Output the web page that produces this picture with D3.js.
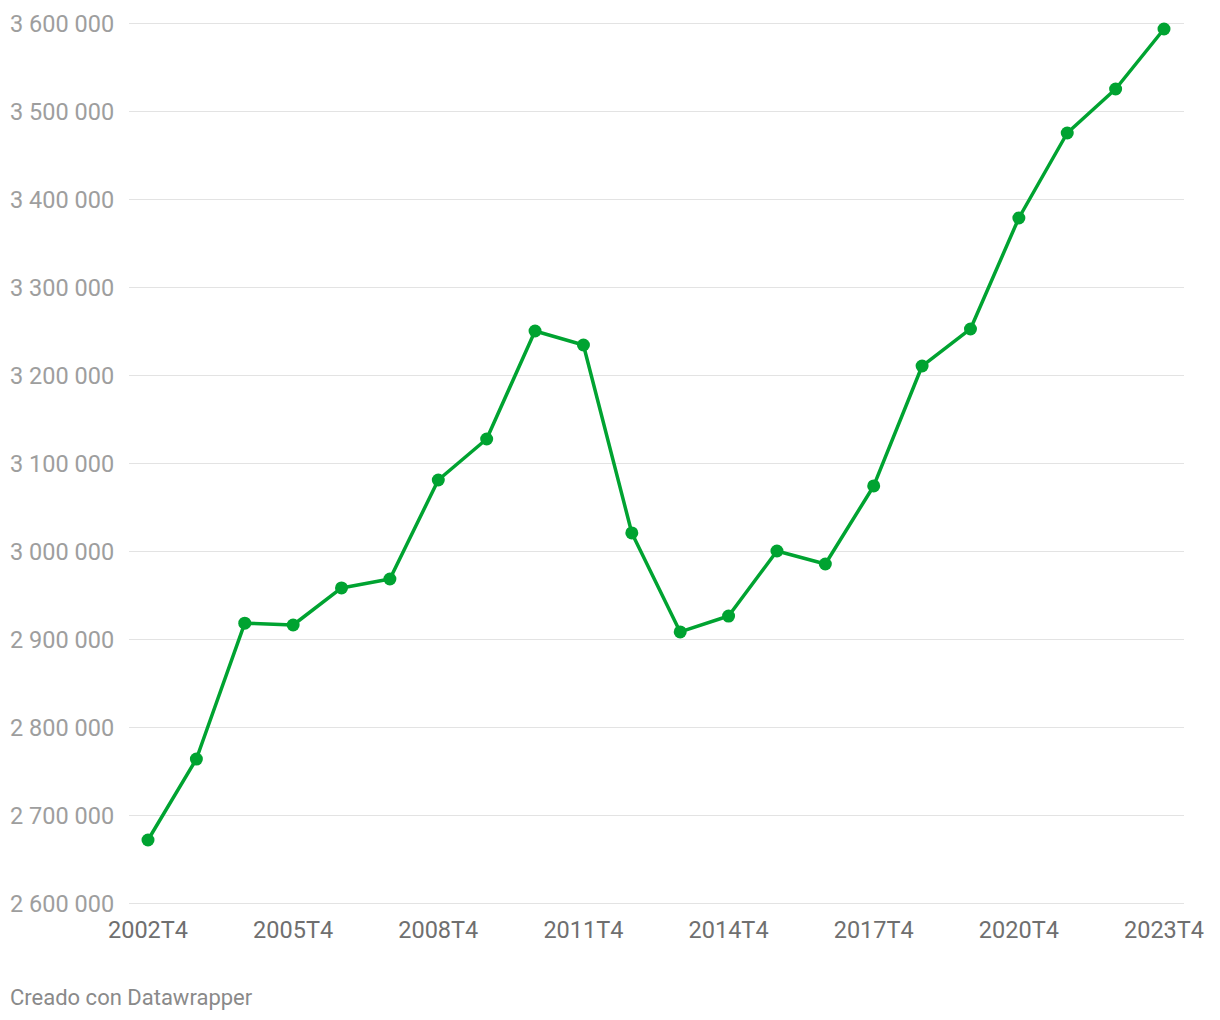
<!DOCTYPE html>
<html>
<head>
<meta charset="utf-8">
<style>
    body { margin: 0; background: #fff; font-family: Roboto, 'Noto Sans', sans-serif; }
    svg { display: block; }
    .grid line { stroke: #e3e3e3; stroke-width: 1; }
    .y-label { font-size: 23.5px; fill: #9e9e9e; }
    .x-label { font-size: 23.5px; fill: #6f6f6f; }
    .credit { font-size: 22px; fill: #8a8a8a; }
</style>
</head>
<body>
<svg width="1220" height="1020"></svg>
<script src="https://d3js.org/d3.v7.min.js"></script>
<script>
    // years of the series (all fourth quarter)
    let years = [2002, 2003, 2004, 2005, 2006, 2007, 2008, 2009, 2010, 2011, 2012,
        2013, 2014, 2015, 2016, 2017, 2018, 2019, 2020, 2021, 2022, 2023]

    let values = [2671600, 2763600, 2918000, 2915900, 2958000, 2968200, 3080700,
        3127300, 3250000, 3234100, 3020500, 2908000, 2926100, 3000000, 2985200,
        3073900, 3210200, 3252300, 3378400, 3475000, 3525000, 3593200]

    let yTicks = [2600000, 2700000, 2800000, 2900000, 3000000, 3100000, 3200000,
        3300000, 3400000, 3500000, 3600000]

    let xTickYears = [2002, 2005, 2008, 2011, 2014, 2017, 2020, 2023]

    let data = years.map((y, i) => ({ year: y, value: values[i] }))

    let svg = d3.select("svg")

    let x = d3.scaleLinear()
        .domain([2002, 2023])
        .range([148, 1164])

    let y = d3.scaleLinear()
        .domain([2600000, 3600000])
        .range([903, 23])

    let fmt = v => d3.format(",")(v).replace(/,/g, " ")

    // gridlines
    svg.append("g")
        .attr("class", "grid")
        .selectAll("line")
        .data(yTicks)
        .join("line")
        .attr("x1", 129)
        .attr("x2", 1184)
        .attr("y1", d => Math.round(y(d)) + 0.5)
        .attr("y2", d => Math.round(y(d)) + 0.5)

    // y labels
    svg.append("g")
        .selectAll("text")
        .data(yTicks)
        .join("text")
        .attr("class", "y-label")
        .attr("x", 10)
        .attr("y", d => y(d) + 1)
        .attr("dy", "0.35em")
        .text(fmt)

    // x labels
    svg.append("g")
        .selectAll("text")
        .data(xTickYears)
        .join("text")
        .attr("class", "x-label")
        .attr("x", d => x(d))
        .attr("y", 930)
        .attr("dy", "0.35em")
        .attr("text-anchor", "middle")
        .text(d => d + "T4")

    let line = d3.line()
        .x(d => x(d.year))
        .y(d => y(d.value))

    svg.append("path")
        .datum(data)
        .attr("fill", "none")
        .attr("stroke", "#00a331")
        .attr("stroke-width", 3.5)
        .attr("stroke-linejoin", "round")
        .attr("d", line)

    svg.append("g")
        .selectAll("circle")
        .data(data)
        .join("circle")
        .attr("cx", d => x(d.year))
        .attr("cy", d => y(d.value))
        .attr("r", 6.5)
        .attr("fill", "#00a331")

    svg.append("text")
        .attr("class", "credit")
        .attr("x", 10)
        .attr("y", 997)
        .attr("dy", "0.35em")
        .text("Creado con Datawrapper")
</script>
</body>
</html>
